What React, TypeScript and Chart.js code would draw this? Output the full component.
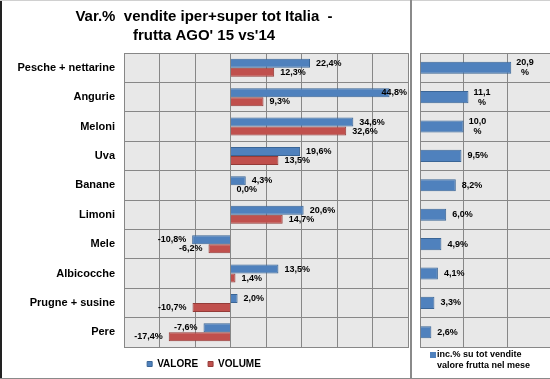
import React, { useEffect, useRef } from "react";
import { Chart, registerables } from "chart.js";

Chart.register(...registerables);

const categories = [
  "Pesche + nettarine",
  "Angurie",
  "Meloni",
  "Uva",
  "Banane",
  "Limoni",
  "Mele",
  "Albicocche",
  "Prugne + susine",
  "Pere",
];
const valore = [22.4, 44.8, 34.6, 19.6, 4.3, 20.6, -10.8, 13.5, 2.0, -7.6];
const volume = [12.3, 9.3, 32.6, 13.5, 0.0, 14.7, -6.2, 1.4, -10.7, -17.4];
const incidenza = [20.9, 11.1, 10.0, 9.5, 8.2, 6.0, 4.9, 4.1, 3.3, 2.6];

const titleLines = ["Var.%  vendite iper+super tot Italia  -", "frutta AGO' 15 vs'14"];
const seriesNames = ["VALORE", "VOLUME"];
const rightLegendLines = ["inc.% su tot vendite", "valore frutta nel mese"];

const FONT = '"Liberation Sans", Arial, Helvetica, sans-serif';
const GRID = "#878787";
const PLOT_BG = "#e8e8e8";
const BLUE = "#4f81bd";
const BLUE_BORDER = "#3a6596";
const RED = "#c0504d";
const RED_BORDER = "#943b38";

const fmt = (v: number) => v.toFixed(1).replace(".", ",") + "%";

const plotBg = {
  id: "plotBg",
  beforeDraw(chart: any) {
    const { ctx, chartArea } = chart;
    ctx.save();
    ctx.fillStyle = PLOT_BG;
    ctx.fillRect(chartArea.left, chartArea.top, chartArea.right - chartArea.left, chartArea.bottom - chartArea.top);
    ctx.restore();
  },
};

const valueLabels = {
  id: "valueLabels",
  afterDatasetsDraw(chart: any, _args: any, opts: any) {
    const { ctx, chartArea } = chart;
    ctx.save();
    ctx.font = `bold 9px ${FONT}`;
    ctx.fillStyle = "#000";
    ctx.textBaseline = "middle";
    chart.data.datasets.forEach((ds: any, di: number) => {
      const meta = chart.getDatasetMeta(di);
      meta.data.forEach((bar: any, i: number) => {
        const v = ds.data[i] as number;
        const text = fmt(v);
        const { x, y } = bar.getProps(["x", "y"], true);
        if (opts && opts.wrap && text.length > 4) {
          const l1 = text.slice(0, -1);
          const w = ctx.measureText(l1).width;
          const cx = x + 5 + w / 2;
          ctx.textAlign = "center";
          ctx.fillText(l1, cx, y - 5);
          ctx.fillText("%", cx, y + 5);
          return;
        }
        const w = ctx.measureText(text).width;
        if (v >= 0) {
          let tx = x + 6;
          if (tx + w > chartArea.right - 1) tx = chartArea.right - 1 - w;
          ctx.textAlign = "left";
          ctx.fillText(text, tx, y);
        } else {
          ctx.textAlign = "right";
          ctx.fillText(text, x - 6, y);
        }
      });
    });
    ctx.restore();
  },
};

const rightLegend = {
  id: "rightLegend",
  afterDraw(chart: any) {
    const { ctx } = chart;
    ctx.save();
    ctx.fillStyle = BLUE;
    ctx.fillRect(18, 352, 6, 6);
    ctx.fillStyle = "#000";
    ctx.font = `bold 9px ${FONT}`;
    ctx.textBaseline = "middle";
    ctx.textAlign = "left";
    ctx.fillText(rightLegendLines[0], 25, 355);
    ctx.fillText(rightLegendLines[1], 25, 366);
    ctx.restore();
  },
};

export default function App() {
  const leftRef = useRef<HTMLCanvasElement>(null);
  const rightRef = useRef<HTMLCanvasElement>(null);

  useEffect(() => {
    const left = new Chart(leftRef.current as HTMLCanvasElement, {
      type: "bar",
      data: {
        labels: categories,
        datasets: [
          {
            label: seriesNames[0],
            data: valore,
            backgroundColor: BLUE,
            borderColor: BLUE_BORDER,
            borderWidth: 1,
            categoryPercentage: 0.612,
            barPercentage: 1,
          },
          {
            label: seriesNames[1],
            data: volume,
            backgroundColor: RED,
            borderColor: RED_BORDER,
            borderWidth: 1,
            categoryPercentage: 0.612,
            barPercentage: 1,
          },
        ],
      },
      options: {
        indexAxis: "y",
        responsive: false,
        animation: false,
        layout: { padding: { left: 0, right: 3, top: 0, bottom: 0 } },
        scales: {
          x: {
            min: -30,
            max: 50,
            ticks: { display: false, stepSize: 10 },
            grid: { color: GRID, drawTicks: false, lineWidth: 1 },
            border: { color: GRID },
            afterFit: (s: any) => {
              s.height = 2;
            },
          },
          y: {
            ticks: { color: "#000", font: { family: FONT, size: 11, weight: "bold" }, padding: 9 },
            grid: { color: GRID, drawTicks: false, offset: true },
            border: { color: GRID },
            afterFit: (s: any) => {
              s.width = 124;
            },
          },
        },
        plugins: {
          title: {
            display: true,
            text: titleLines,
            color: "#000",
            font: { family: FONT, size: 15, weight: "bold", lineHeight: 1.27 },
            padding: { top: 7, bottom: 8 },
          },
          legend: {
            position: "bottom",
            labels: {
              color: "#000",
              font: { family: FONT, size: 10, weight: "bold" },
              boxWidth: 5,
              boxHeight: 5,
              padding: 10,
            },
          },
          tooltip: { enabled: false },
        },
      } as any,
      plugins: [plotBg, valueLabels],
    });

    const right = new Chart(rightRef.current as HTMLCanvasElement, {
      type: "bar",
      data: {
        labels: categories,
        datasets: [
          {
            label: rightLegendLines.join(" "),
            data: incidenza,
            backgroundColor: BLUE,
            borderColor: BLUE_BORDER,
            borderWidth: 1,
            categoryPercentage: 0.41,
            barPercentage: 1,
          },
        ],
      },
      options: {
        indexAxis: "y",
        responsive: false,
        animation: false,
        layout: { padding: { left: 8, right: 0, top: 53, bottom: 32 } },
        scales: {
          x: {
            min: 0,
            max: 30,
            ticks: { display: false, stepSize: 10 },
            grid: { color: GRID, drawTicks: false },
            border: { color: GRID },
            afterFit: (s: any) => {
              s.height = 0;
            },
          },
          y: {
            ticks: { display: false },
            grid: { color: GRID, drawTicks: false, offset: true },
            border: { color: GRID },
            afterFit: (s: any) => {
              s.width = 0;
            },
          },
        },
        plugins: {
          legend: { display: false },
          title: { display: false },
          tooltip: { enabled: false },
          valueLabels: { wrap: true },
        },
      } as any,
      plugins: [plotBg, valueLabels, rightLegend],
    });

    return () => {
      left.destroy();
      right.destroy();
    };
  }, []);

  return (
    <div
      style={{
        position: "absolute",
        left: 0,
        top: 0,
        width: 550,
        height: 379,
        overflow: "hidden",
        background: "#fff",
      }}
    >
      <canvas ref={leftRef} width={411} height={379} style={{ position: "absolute", left: 0, top: 0, width: 411, height: 379 }} />
      <canvas ref={rightRef} width={139} height={379} style={{ position: "absolute", left: 412, top: 0, width: 139, height: 379 }} />
      <div style={{ position: "absolute", left: 0, top: 0, width: 2, height: 379, background: "#222" }} />
      <div style={{ position: "absolute", left: 0, top: 0, width: 550, height: 1, background: "#d0d0d0" }} />
      <div style={{ position: "absolute", left: 0, top: 378, width: 550, height: 1, background: "#8a8a8a" }} />
      <div style={{ position: "absolute", left: 410, top: 0, width: 2, height: 379, background: "#8a8a8a" }} />
    </div>
  );
}
